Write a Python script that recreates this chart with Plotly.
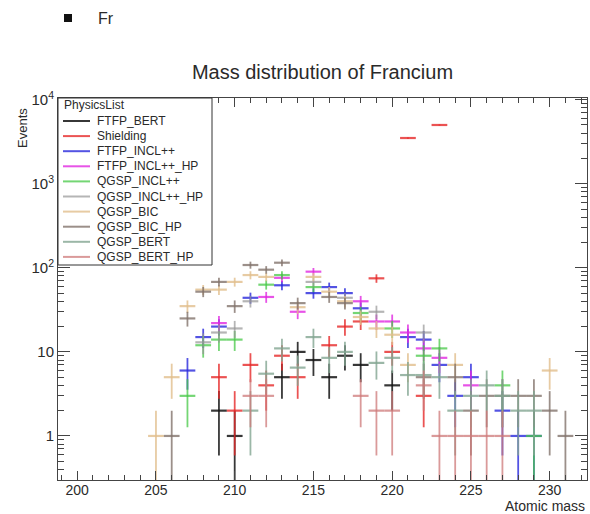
import plotly.graph_objects as go
import math

N = None
masses = [205, 206, 207, 208, 209, 210, 211, 212, 213, 214, 215, 216, 217, 218,
          219, 220, 221, 222, 223, 224, 225, 226, 227, 228, 229, 230, 231]

series_names = ["FTFP_BERT", "Shielding", "FTFP_INCL++", "FTFP_INCL++_HP",
                "QGSP_INCL++", "QGSP_INCL++_HP", "QGSP_BIC", "QGSP_BIC_HP",
                "QGSP_BERT", "QGSP_BERT_HP"]

ftfp_bert = [N, N, N, N, 2, 1, N, N, 5, 10, 8, 5, 9, 7, N, 4, N, N, N, N, N, N, N, N, N, N, N]
shielding = [N, N, N, N, 5, 2, 7, 4, 9, 5, N, 12, 20, 23, 75, 10, 3500, 3, 5000, N, N, N, N, N, N, N, N]
ftfp_incl = [N, N, 6, 15, 20, N, 44, N, 62, N, 50, 59, 50, 33, N, N, 15, 14, 7, 3, 5, N, 2, 1, 1, N, N]
ftfp_incl_hp = [N, N, N, N, 22, N, N, 45, 76, 30, 90, N, N, 40, 23, 23, 17, 11, 8.5, N, 4, N, N, N, N, N, N]
qgsp_incl = [N, N, 3, 12, 14, 14, N, 63, 82, N, 59, N, N, 29, N, 19, N, 9, 11, N, N, N, 4, N, 1, N, N]
qgsp_incl_hp = [N, N, N, 13, 17, 19, 40, N, N, N, 68, N, 44, N, 30, N, N, 17, N, N, N, N, N, N, N, N, N]
qgsp_bic = [1, 5, 35, 55, 55, 68, 82, 78, N, 34, 78, 52, 40, 26, 19, 16, 7, N, N, 7, N, N, N, N, N, 6, N]
qgsp_bic_hp = [N, 1, 25, 52, 68, 35, 108, 95, 115, 38, N, 45, 38, N, N, N, N, 5, N, 5, 2, 3, 3, 3, 3, 2, 1]
qgsp_bert = [N, N, N, N, N, N, 2, 5.5, 11, 6.5, 15, 8.5, 10, N, 7.4, 8.5, 5.3, 5.3, 5, 2, 3, 4, 3, 2, 2, N, N]
qgsp_bert_hp = [N, N, N, N, N, N, 3, 3, N, N, N, N, N, 3, 2, 2, N, 4, 1, 1, 1, 1, 1, N, N, N, N]

series_values = [ftfp_bert, shielding, ftfp_incl, ftfp_incl_hp, qgsp_incl,
                 qgsp_incl_hp, qgsp_bic, qgsp_bic_hp, qgsp_bert, qgsp_bert_hp]

colors = ["rgba(20,20,20,0.85)", "rgba(230,40,40,0.8)", "rgba(40,40,220,0.8)",
          "rgba(225,40,225,0.8)", "rgba(70,200,70,0.75)", "rgba(150,150,150,0.7)",
          "rgba(225,190,140,0.8)", "rgba(130,115,108,0.8)", "rgba(130,165,145,0.8)",
          "rgba(205,120,120,0.75)"]

ytick_vals = [1, 10, 100, 1000, 10000]
ytick_text = ["1", "10", "10<sup>2</sup>", "10<sup>3</sup>", "10<sup>4</sup>"]
xtick_vals = [200, 205, 210, 215, 220, 225, 230]

W, H = 590, 514
ML, MR, MT, MB = 58, 3, 98, 34
PW, PH = W - ML - MR, H - MT - MB

def px(x):
    return (x - ML) / PW

def py(y):
    return (H - MB - y) / PH

fig = go.Figure()
for name, vals, col in zip(series_names, series_values, colors):
    xs, ys, errs = [], [], []
    for m, v in zip(masses, vals):
        if v is None:
            continue
        xs.append(m)
        ys.append(v)
        errs.append(math.sqrt(v))
    fig.add_trace(go.Scatter(
        x=xs, y=ys, mode="markers", name=name, showlegend=False,
        marker=dict(size=1, opacity=0, color=col),
        error_x=dict(type="constant", value=0.5, width=0, thickness=2.2, color=col),
        error_y=dict(type="data", array=errs, width=0, thickness=1.8, color=col),
    ))

font_family = "Liberation Sans, Arial, sans-serif"
text_col = "#2a2a2a"

fig.update_layout(
    width=W, height=H,
    margin=dict(l=ML, r=MR, t=MT, b=MB),
    paper_bgcolor="white", plot_bgcolor="white",
    font=dict(family=font_family, color=text_col, size=15),
    title=dict(text="Mass distribution of Francium", x=0.5, xref="paper",
               y=1 - 72 / H, yref="container", xanchor="center", yanchor="middle",
               font=dict(size=20, color=text_col, family=font_family)),
    xaxis=dict(range=[198.78, 232.37], tickmode="array", tickvals=xtick_vals,
               ticks="inside", ticklen=9, tickcolor="#444", showline=True,
               linecolor="#444", linewidth=1, mirror="allticks", showgrid=False,
               zeroline=False, tickfont=dict(size=14, color=text_col),
               ticklabelstandoff=-3,
               minor=dict(ticks="inside", ticklen=5, dtick=1, tick0=200,
                          tickcolor="#444", showgrid=False)),
    yaxis=dict(type="log", range=[-0.524, 4.02], tickmode="array",
               tickvals=ytick_vals, ticktext=ytick_text,
               ticks="inside", ticklen=12, tickcolor="#444", showline=True,
               linecolor="#444", linewidth=1, mirror="allticks", showgrid=False,
               zeroline=False, tickfont=dict(size=15, color=text_col),
               minor=dict(ticks="inside", ticklen=6, dtick="D1",
                          tickcolor="#444", showgrid=False)),
)

shapes = []
annotations = []

# top "Fr" marker
shapes.append(dict(type="rect", xref="paper", yref="paper",
                   x0=px(64), x1=px(72), y0=py(22), y1=py(14),
                   fillcolor="#111", line=dict(width=0)))
annotations.append(dict(text="Fr", xref="paper", yref="paper", x=px(96), y=py(18),
                        xanchor="left", yanchor="middle", showarrow=False,
                        font=dict(size=16, color=text_col)))

# axis titles
annotations.append(dict(text="Events", xref="paper", yref="paper", x=px(22), y=py(128),
                        xanchor="center", yanchor="middle", textangle=-90,
                        showarrow=False, font=dict(size=13, color=text_col)))
annotations.append(dict(text="Atomic mass", xref="paper", yref="paper", x=px(587), y=py(506),
                        xanchor="right", yanchor="middle", showarrow=False,
                        font=dict(size=14, color=text_col)))

# legend box
shapes.append(dict(type="rect", xref="paper", yref="paper",
                   x0=px(58), x1=px(212), y0=py(265), y1=py(98),
                   fillcolor="white", line=dict(color="#333", width=1), layer="above"))
annotations.append(dict(text="PhysicsList", xref="paper", yref="paper", x=px(62), y=py(105),
                        xanchor="left", yanchor="middle", showarrow=False,
                        font=dict(size=12, color=text_col)))
for i, (name, col) in enumerate(zip(series_names, colors)):
    yy = 121 + 15.1 * i
    shapes.append(dict(type="line", xref="paper", yref="paper",
                       x0=px(63), x1=px(90), y0=py(yy), y1=py(yy),
                       line=dict(color=col, width=2), layer="above"))
    annotations.append(dict(text=name, xref="paper", yref="paper", x=px(95), y=py(yy),
                            xanchor="left", yanchor="middle", showarrow=False,
                            font=dict(size=12, color=text_col)))

fig.update_layout(shapes=shapes, annotations=annotations)
fig.write_html("out.html")
